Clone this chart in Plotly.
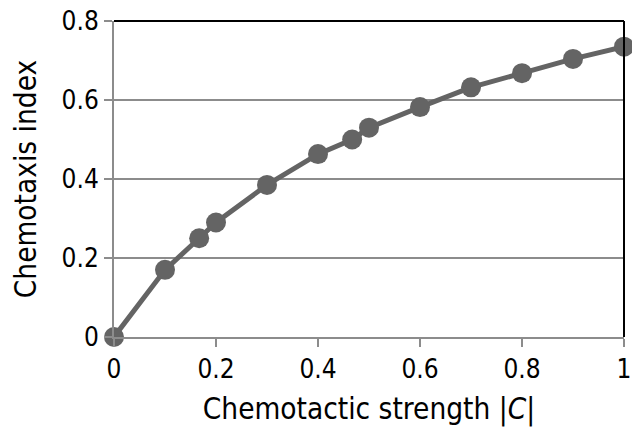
import plotly.graph_objects as go

strength = [0, 0.1, 0.167, 0.2, 0.3, 0.4, 0.467, 0.5, 0.6, 0.7, 0.8, 0.9, 1.0]
chemotaxis_index = [0, 0.17, 0.25, 0.29, 0.385, 0.463, 0.5, 0.53, 0.582, 0.632, 0.668, 0.704, 0.735]
x_ticks = [0, 0.2, 0.4, 0.6, 0.8, 1]
x_tick_labels = ["0", "0.2", "0.4", "0.6", "0.8", "1"]
y_ticks = [0, 0.2, 0.4, 0.6, 0.8]
y_tick_labels = ["0", "0.2", "0.4", "0.6", "0.8"]

fig = go.Figure()
fig.add_trace(go.Scatter(
    x=strength, y=chemotaxis_index, mode="lines+markers",
    line=dict(color="#646464", width=5),
    marker=dict(color="#646464", size=20),
    cliponaxis=False, showlegend=False,
))

font = "DejaVu Sans Condensed, DejaVu Sans, sans-serif"
fig.update_layout(
    width=632, height=429,
    margin=dict(l=114, r=8, t=21, b=92, autoexpand=False),
    paper_bgcolor="white", plot_bgcolor="white",
    font=dict(family=font, size=26, color="black"),
    xaxis=dict(
        range=[0, 1], tickvals=x_ticks, ticktext=x_tick_labels,
        showgrid=False, zeroline=False,
        showline=True, linecolor="#8c8c8c", linewidth=2,
        ticks="outside", ticklen=8, tickcolor="#8c8c8c", tickwidth=2,
        title=dict(text="Chemotactic strength |<i>C</i>|", font=dict(size=29.5), standoff=15),
    ),
    yaxis=dict(
        range=[0, 0.8], tickvals=y_ticks, ticktext=y_tick_labels,
        showgrid=True, gridcolor="#8c8c8c", gridwidth=2, zeroline=False,
        showline=True, linecolor="#8c8c8c", linewidth=2,
        ticks="outside", ticklen=8, tickcolor="#8c8c8c", tickwidth=2,
        title=dict(text="Chemotaxis index", font=dict(size=29.5), standoff=16),
    ),
)
# black top and right frame edges
fig.add_shape(type="line", xref="paper", yref="paper", x0=0, x1=1, y0=1, y1=1,
              line=dict(color="black", width=2))
fig.add_shape(type="line", xref="paper", yref="paper", x0=1, x1=1, y0=0, y1=1,
              line=dict(color="black", width=2))

fig.write_html("out.html", config={"displayModeBar": False},
               post_script="document.body.style.margin='0';document.body.style.overflow='hidden';")
